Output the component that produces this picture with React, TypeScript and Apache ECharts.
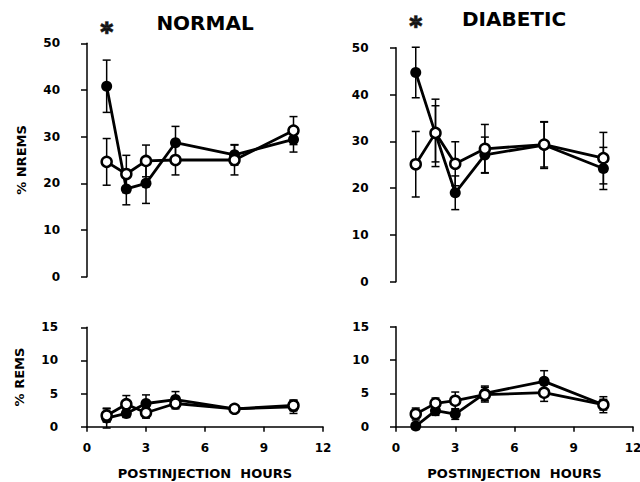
import React, { useEffect, useRef } from "react";
import * as echarts from "echarts";

const hours = [1, 2, 3, 4.5, 7.5, 10.5];
const xTickStep = 3;
const nremsStep = 10;
const remsStep = 5;

const normalNremsFilled = [40.8, 18.8, 20.0, 28.7, 26.1, 29.4];
const normalNremsFilledErr = [5.6, 3.4, 4.3, 3.5, 2.2, 2.7];
const normalNremsOpen = [24.6, 22.0, 24.8, 25.0, 25.0, 31.3];
const normalNremsOpenErr = [5.0, 4.0, 3.4, 3.2, 3.2, 3.0];

const diabeticNremsFilled = [44.7, 31.6, 19.0, 27.1, 29.2, 24.2];
const diabeticNremsFilledErr = [5.4, 6.0, 3.6, 3.8, 5.0, 4.5];
const diabeticNremsOpen = [25.1, 31.8, 25.2, 28.4, 29.3, 26.4];
const diabeticNremsOpenErr = [7.0, 7.2, 4.7, 5.2, 4.8, 5.5];

const normalRemsFilled = [1.3, 2.0, 3.5, 4.1, 2.7, 3.0];
const normalRemsFilledErr = [1.5, 0.6, 1.3, 1.2, 0.4, 1.0];
const normalRemsOpen = [1.7, 3.4, 2.1, 3.5, 2.7, 3.2];
const normalRemsOpenErr = [1.0, 1.3, 0.8, 0.8, 0.4, 0.8];

const diabeticRemsFilled = [0.1, 2.4, 1.9, 5.0, 6.8, 3.3];
const diabeticRemsFilledErr = [0.5, 0.7, 0.8, 1.1, 1.6, 1.2];
const diabeticRemsOpen = [1.9, 3.5, 3.9, 4.8, 5.1, 3.3];
const diabeticRemsOpenErr = [0.9, 0.8, 1.3, 1.1, 1.3, 0.8];

const panelTitles = ["NORMAL", "DIABETIC"];
const nremsName = "% NREMS";
const remsName = "% REMS";
const xName = "POSTINJECTION  HOURS";
// significance markers (hour, % value above the point)
const normalStar = [1, 53.4];
const diabeticStar = [1, 55.7];

const FONT = "DejaVu Sans";

function pairs(ys: number[]) {
  return hours.map((h, i) => [h, ys[i]]);
}
function errData(ys: number[], es: number[]) {
  return hours.map((h, i) => [h, ys[i], es[i]]);
}

function errSeries(idx: number, ys: number[], es: number[]) {
  return {
    type: "custom",
    xAxisIndex: idx,
    yAxisIndex: idx,
    z: 1,
    silent: true,
    encode: { x: 0, y: 1 },
    data: errData(ys, es),
    renderItem: (params: any, api: any) => {
      const x = api.value(0);
      const y = api.value(1);
      const e = api.value(2);
      const top = api.coord([x, y + e]);
      const bot = api.coord([x, y - e]);
      const w = 4;
      const style = { stroke: "#000", lineWidth: 1.5 };
      return {
        type: "group",
        children: [
          { type: "line", shape: { x1: top[0], y1: top[1], x2: bot[0], y2: bot[1] }, style },
          { type: "line", shape: { x1: top[0] - w, y1: top[1], x2: top[0] + w, y2: top[1] }, style },
          { type: "line", shape: { x1: bot[0] - w, y1: bot[1], x2: bot[0] + w, y2: bot[1] }, style },
        ],
      };
    },
  };
}

function lineSeries(idx: number, ys: number[], open: boolean) {
  return {
    type: "line",
    xAxisIndex: idx,
    yAxisIndex: idx,
    z: open ? 3 : 2,
    data: pairs(ys),
    symbol: "circle",
    symbolSize: open ? 10 : 11,
    showSymbol: true,
    lineStyle: { color: "#000", width: 2.8 },
    itemStyle: open
      ? { color: "#fff", borderColor: "#000", borderWidth: 2.5 }
      : { color: "#000", borderColor: "#000", borderWidth: 0 },
    emphasis: { disabled: true },
  };
}

function starSeries(idx: number, star: number[]) {
  return {
    type: "scatter",
    xAxisIndex: idx,
    yAxisIndex: idx,
    clip: false,
    z: 5,
    silent: true,
    data: [star],
    symbol: "circle",
    symbolSize: 1,
    itemStyle: { color: "rgba(0,0,0,0)" },
    label: {
      show: true,
      position: "inside",
      formatter: "*",
      fontSize: 24,
      fontWeight: "bold",
      fontFamily: FONT,
      color: "#000",
      textBorderColor: "#000",
      textBorderWidth: 1.5,
      offset: [0, 5],
    },
    emphasis: { disabled: true },
  };
}

function yAxis(idx: number, max: number, step: number, offset: number, name: string) {
  return {
    type: "value",
    gridIndex: idx,
    min: 0,
    max,
    interval: step,
    offset,
    name,
    nameLocation: "middle",
    nameRotate: 90,
    nameGap: 47,
    nameTextStyle: { fontFamily: FONT, fontWeight: "bold", fontSize: 13, color: "#000" },
    axisLine: { show: true, lineStyle: { color: "#000", width: 1.5 } },
    axisTick: { show: true, length: 6, lineStyle: { color: "#000", width: 1.5 } },
    axisLabel: { fontFamily: FONT, fontWeight: "bold", fontSize: 12, color: "#000", margin: 15 },
    splitLine: { show: false },
  };
}

function xAxis(idx: number, showAxis: boolean) {
  return {
    type: "value",
    gridIndex: idx,
    min: 0,
    max: 12,
    interval: xTickStep,
    show: showAxis,
    name: showAxis ? xName : "",
    nameLocation: "middle",
    nameGap: 40,
    nameTextStyle: { fontFamily: FONT, fontWeight: "bold", fontSize: 13, color: "#000" },
    axisLine: { show: true, onZero: false, lineStyle: { color: "#000", width: 1.5 } },
    axisTick: { show: true, length: 5, lineStyle: { color: "#000", width: 1.5 } },
    axisLabel: { fontFamily: FONT, fontWeight: "bold", fontSize: 12, color: "#000", margin: 15 },
    splitLine: { show: false },
  };
}

export default function App() {
  const ref = useRef<HTMLDivElement>(null);
  useEffect(() => {
    if (!ref.current) return;
    const chart = echarts.init(ref.current, null, { renderer: "svg" });
    const option: any = {
      animation: false,
      backgroundColor: "#fff",
      textStyle: { fontFamily: FONT },
      title: [
        {
          text: panelTitles[0],
          left: 205,
          top: 13,
          textAlign: "center",
          padding: 0,
          textStyle: { fontFamily: FONT, fontWeight: "bold", fontSize: 20, color: "#000" },
        },
        {
          text: panelTitles[1],
          left: 514,
          top: 9,
          textAlign: "center",
          padding: 0,
          textStyle: { fontFamily: FONT, fontWeight: "bold", fontSize: 20, color: "#000" },
        },
      ],
      grid: [
        { left: 87, width: 236, top: 43.3, height: 233.4, outerBoundsMode: "none" },
        { left: 396, width: 237, top: 47.7, height: 234, outerBoundsMode: "none" },
        { left: 87, width: 236, top: 327.3, height: 99.4, outerBoundsMode: "none" },
        { left: 396, width: 237, top: 326.7, height: 100, outerBoundsMode: "none" },
      ],
      xAxis: [xAxis(0, false), xAxis(1, false), xAxis(2, true), xAxis(3, true)],
      yAxis: [
        yAxis(0, 50, nremsStep, 12, nremsName),
        yAxis(1, 50, nremsStep, 12.5, ""),
        yAxis(2, 15, remsStep, 14, remsName),
        yAxis(3, 15, remsStep, 12, ""),
      ],
      series: [
        errSeries(0, normalNremsFilled, normalNremsFilledErr),
        errSeries(0, normalNremsOpen, normalNremsOpenErr),
        lineSeries(0, normalNremsFilled, false),
        lineSeries(0, normalNremsOpen, true),
        starSeries(0, normalStar),

        errSeries(1, diabeticNremsFilled, diabeticNremsFilledErr),
        errSeries(1, diabeticNremsOpen, diabeticNremsOpenErr),
        lineSeries(1, diabeticNremsFilled, false),
        lineSeries(1, diabeticNremsOpen, true),
        starSeries(1, diabeticStar),

        errSeries(2, normalRemsFilled, normalRemsFilledErr),
        errSeries(2, normalRemsOpen, normalRemsOpenErr),
        lineSeries(2, normalRemsFilled, false),
        lineSeries(2, normalRemsOpen, true),

        errSeries(3, diabeticRemsFilled, diabeticRemsFilledErr),
        errSeries(3, diabeticRemsOpen, diabeticRemsOpenErr),
        lineSeries(3, diabeticRemsFilled, false),
        lineSeries(3, diabeticRemsOpen, true),
      ],
    };
    chart.setOption(option);
    return () => chart.dispose();
  }, []);
  return <div ref={ref} style={{ width: 640, height: 482, position: "absolute", left: 0, top: 0 }} />;
}
